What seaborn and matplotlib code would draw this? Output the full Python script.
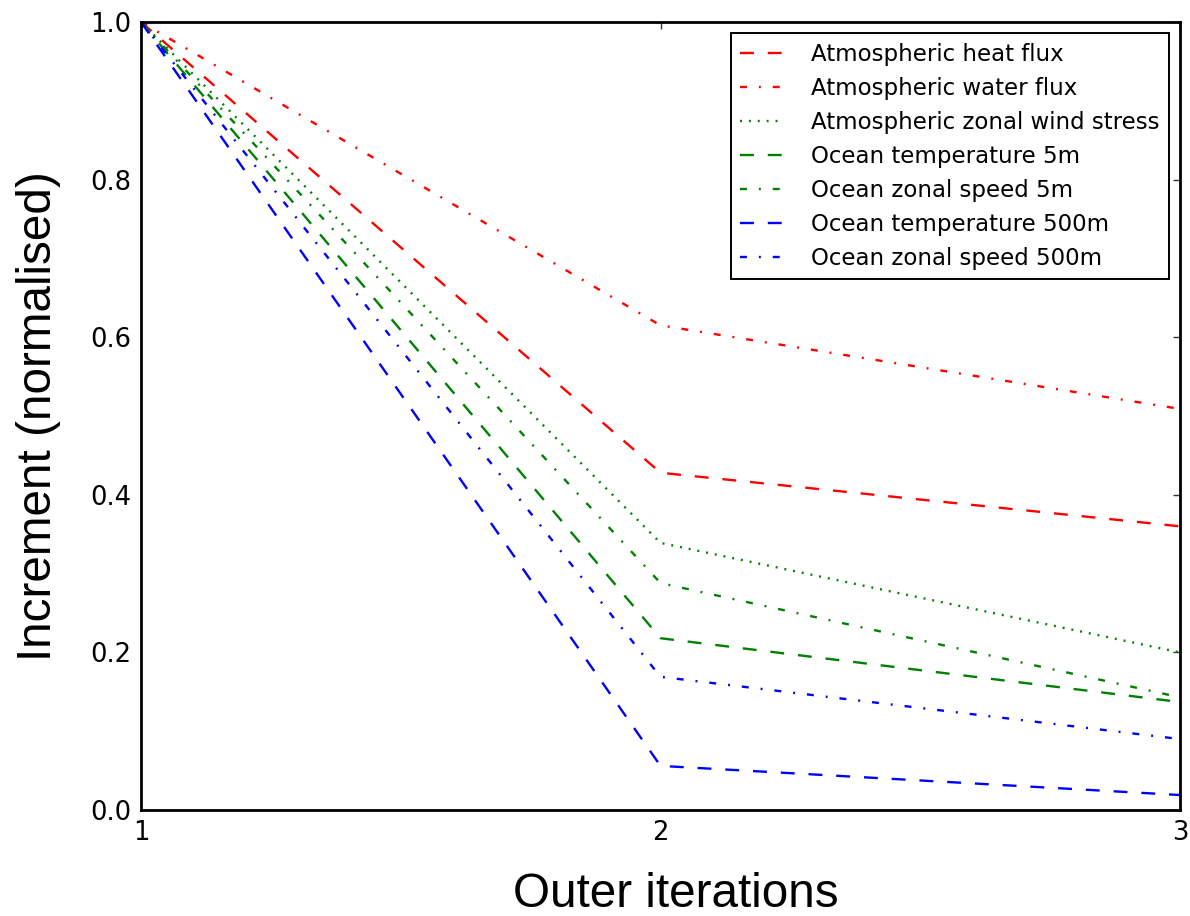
import matplotlib
matplotlib.use("Agg")
import matplotlib.pyplot as plt
import seaborn as sns
import pandas as pd

# ---- data ----
iterations = [1, 2, 3]
atm_heat_flux = [1.0, 0.428, 0.360]
atm_water_flux = [1.0, 0.615, 0.509]
atm_zonal_wind_stress = [1.0, 0.339, 0.200]
ocean_temp_5m = [1.0, 0.218, 0.137]
ocean_zonal_speed_5m = [1.0, 0.288, 0.143]
ocean_temp_500m = [1.0, 0.056, 0.019]
ocean_zonal_speed_500m = [1.0, 0.169, 0.090]

labels = [
    "Atmospheric heat flux",
    "Atmospheric water flux",
    "Atmospheric zonal wind stress",
    "Ocean temperature 5m",
    "Ocean zonal speed 5m",
    "Ocean temperature 500m",
    "Ocean zonal speed 500m",
]
series = [atm_heat_flux, atm_water_flux, atm_zonal_wind_stress, ocean_temp_5m,
          ocean_zonal_speed_5m, ocean_temp_500m, ocean_zonal_speed_500m]
colors = ["#ff0000", "#ff0000", "#008000", "#008000", "#008000", "#0000ff", "#0000ff"]

DASHED = (0, (10, 10))
DASHDOT = (0, (5, 8.6, 1.4, 8.6))
DOTTED = (0, (1.4, 5))
styles = [DASHED, DASHDOT, DOTTED, DASHED, DASHDOT, DASHED, DASHDOT]

sns.set_style("white")
plt.rcParams["font.family"] = ["DejaVu Sans"]
plt.rcParams["lines.solid_capstyle"] = "butt"
plt.rcParams["lines.dash_capstyle"] = "butt"
plt.rcParams["lines.scale_dashes"] = False
plt.rcParams["text.color"] = "black"
plt.rcParams["axes.labelcolor"] = "black"
plt.rcParams["xtick.color"] = "black"
plt.rcParams["ytick.color"] = "black"

fig = plt.figure(figsize=(11.9, 9.16), dpi=100)
ax = fig.add_axes([141/1190, 1 - 810/916, (1180 - 141)/1190, (810 - 22)/916])

for lab, vals, col, ls in zip(labels, series, colors, styles):
    df = pd.DataFrame({"x": iterations, "y": vals})
    sns.lineplot(data=df, x="x", y="y", ax=ax, color=col, linestyle=ls,
                 linewidth=1.7, label=lab)

ax.set_xlim(1, 3)
ax.set_ylim(0, 1)
ax.set_xticks(iterations)
ax.set_xticklabels([str(i) for i in iterations])
ax.set_yticks([0.0, 0.2, 0.4, 0.6, 0.8, 1.0])
ax.set_yticklabels(["0.0", "0.2", "0.4", "0.6", "0.8", "1.0"])

ax.tick_params(axis="both", direction="in", length=5, width=1, color="#333333",
               top=True, right=True, labelsize=18.6, labelcolor="black")
ax.tick_params(axis="x", pad=7)
ax.tick_params(axis="y", pad=7)

for sp in ax.spines.values():
    sp.set_visible(True)
    sp.set_color("black")
    sp.set_linewidth(2.0)

ax.set_xlabel("Outer iterations", fontsize=34.3, family="Liberation Sans",
              labelpad=19, color="black")
ax.xaxis.label.set_x(0.5144)
ax.set_ylabel("Increment (normalised)", fontsize=34.3, family="Liberation Sans",
              labelpad=21, color="black")

leg = ax.legend(loc="upper right", fontsize=16.5, frameon=True, fancybox=False,
                edgecolor="black", framealpha=1, handlelength=1.9,
                handletextpad=1.2, borderpad=0.4, labelspacing=0.48,
                borderaxespad=0.5)
leg.get_frame().set_linewidth(1.4)
for t in leg.get_texts():
    t.set_color("black")

fig.savefig("out.png", dpi=100)
